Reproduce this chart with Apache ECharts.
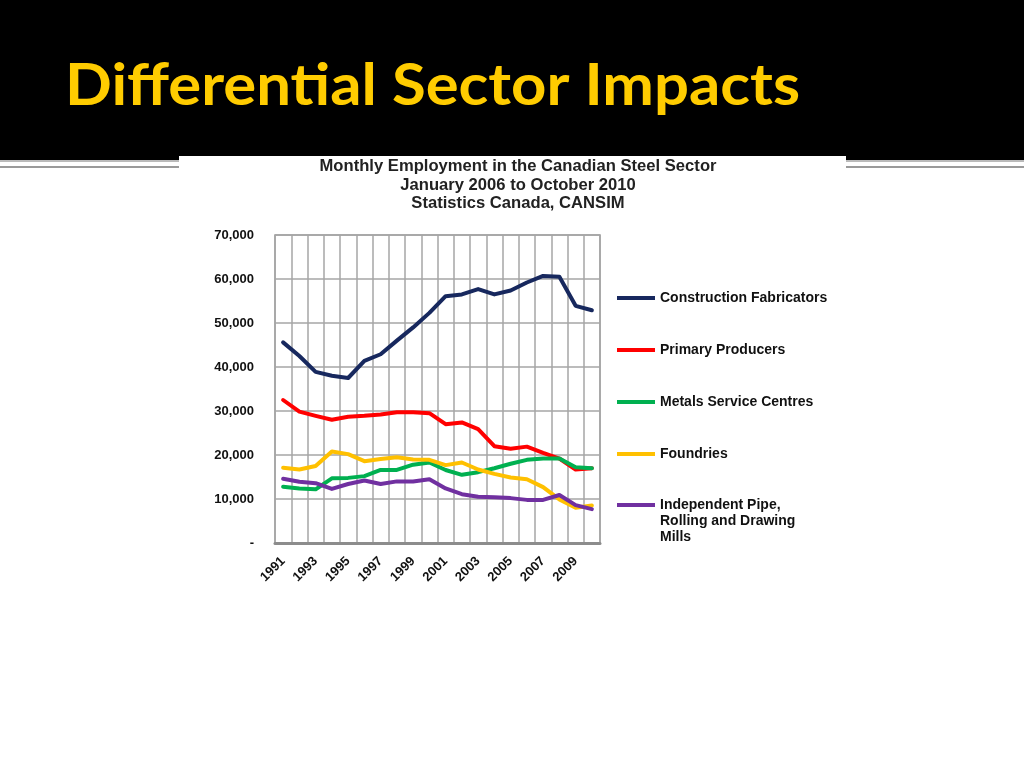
<!DOCTYPE html>
<html>
<head>
<meta charset="utf-8">
<script src="https://cdn.jsdelivr.net/npm/echarts@6/dist/echarts.min.js"></script>
<style>
html,body{margin:0;padding:0;background:#fff;}
#c{width:1024px;height:768px;}
</style>
</head>
<body>
<div id="c"></div>
<script>
var years = ['1991','1992','1993','1994','1995','1996','1997','1998','1999','2000','2001','2002','2003','2004','2005','2006','2007','2008','2009','2010'];
var yTicks = [0, 10000, 20000, 30000, 40000, 50000, 60000, 70000];
var constructionFabricators = [45600, 42500, 38900, 38000, 37500, 41400, 42900, 46000, 49000, 52300, 56100, 56500, 57700, 56500, 57400, 59200, 60700, 60500, 53900, 52900];
var primaryProducers = [32500, 29850, 28900, 28000, 28700, 28900, 29200, 29700, 29700, 29500, 27000, 27400, 25900, 22000, 21400, 21900, 20500, 19200, 16700, 17000];
var metalsServiceCentres = [12800, 12400, 12200, 14700, 14800, 15200, 16600, 16600, 17800, 18300, 16600, 15500, 16100, 17000, 18000, 18900, 19200, 19200, 17200, 17000];
var foundries = [17100, 16700, 17500, 20800, 20200, 18600, 19100, 19500, 19000, 18900, 17700, 18300, 16700, 15700, 14900, 14500, 12700, 9900, 8000, 8500];
var independentPipe = [14600, 13900, 13600, 12300, 13400, 14200, 13400, 14000, 14000, 14500, 12400, 11100, 10500, 10400, 10200, 9800, 9800, 10900, 8600, 7700];
var seriesNames = ['Construction Fabricators', 'Primary Producers', 'Metals Service Centres', 'Foundries', 'Independent Pipe, Rolling and Drawing Mills'];
var seriesColors = ['#17285E', '#FF0000', '#00B050', '#FFC000', '#7030A0'];
var seriesData = [constructionFabricators, primaryProducers, metalsServiceCentres, foundries, independentPipe];

var slideTitle = 'Differential Sector Impacts';
var chartTitleLines = ['Monthly Employment in the Canadian Steel Sector', 'January 2006 to October 2010', 'Statistics Canada, CANSIM'];

var titleFont = 'bold 58px Lato';
var chartTitleFont = 'bold 15px "Liberation Sans", Arial';
var cv = document.createElement('canvas').getContext('2d');
cv.font = titleFont;
var tw = cv.measureText(slideTitle).width || 735;
var sx = 735 / tw;
cv.font = chartTitleFont;
var ctw = cv.measureText(chartTitleLines[0]).width || 397;
var csx = 397 / ctw;

var chart = echarts.init(document.getElementById('c'), null, {renderer: 'canvas'});
var series = seriesNames.map(function (n, i) {
  return {
    name: n,
    type: 'line',
    data: seriesData[i],
    showSymbol: false,
    symbol: 'none',
    lineStyle: {width: 4, color: seriesColors[i], cap: 'round', join: 'round'},
    itemStyle: {color: seriesColors[i]},
    z: 3 + i
  };
});

var graphics = [
  {type: 'rect', shape: {x: 0, y: 0, width: 1024, height: 160}, style: {fill: '#000'}, z: -10},
  {type: 'line', shape: {x1: 0, y1: 161, x2: 1024, y2: 161}, style: {stroke: '#777', lineWidth: 1}, z: -9},
  {type: 'line', shape: {x1: 0, y1: 167, x2: 1024, y2: 167}, style: {stroke: '#9a9a9a', lineWidth: 2}, z: -9},
  {type: 'rect', shape: {x: 179, y: 156, width: 667, height: 20}, style: {fill: '#fff'}, z: -8},
  {type: 'text', x: 65, y: 86, scaleX: sx, scaleY: 1, style: {text: slideTitle, x: 0, y: 0, font: titleFont, fill: '#FFCC00', verticalAlign: 'middle', align: 'left'}, z: 10}
];
chartTitleLines.forEach(function (t, i) {
  graphics.push({type: 'text', x: 518, y: 167 + i * 18.5, scaleX: csx, scaleY: 1.05,
    style: {text: t, x: 0, y: 0, font: chartTitleFont, fill: '#222', align: 'center', verticalAlign: 'middle'}, z: 10});
});

var legendText = {fontFamily: '"Liberation Sans", Arial', fontWeight: 'bold', fontSize: 14, lineHeight: 16, color: '#111'};

chart.setOption({
  animation: false,
  backgroundColor: '#ffffff',
  graphic: graphics,
  legend: [
    {
      orient: 'vertical',
      left: 617,
      top: 290,
      padding: 0,
      itemGap: 36,
      itemWidth: 38,
      itemHeight: 4,
      icon: 'rect',
      data: seriesNames.slice(0, 4),
      textStyle: legendText
    },
    {
      orient: 'vertical',
      left: 617,
      top: 465,
      padding: 0,
      itemWidth: 38,
      itemHeight: 4,
      icon: 'rect',
      data: [seriesNames[4]],
      formatter: function () { return '\n\nIndependent Pipe,\nRolling and Drawing\nMills'; },
      textStyle: legendText
    }
  ],
  grid: {
    left: 275, top: 235, right: 424, bottom: 225,
    show: true, borderColor: '#999', borderWidth: 1.5, backgroundColor: '#fff',
    containLabel: false
  },
  xAxis: {
    type: 'category',
    data: years,
    boundaryGap: true,
    axisLine: {show: true, lineStyle: {color: '#8c8c8c', width: 3}},
    axisTick: {show: false, interval: 0},
    splitLine: {show: true, interval: 0, lineStyle: {color: '#a6a6a6', width: 1.5}},
    axisLabel: {
      interval: 1, rotate: 45, margin: 16,
      fontFamily: '"Liberation Sans", Arial', fontWeight: 'bold', fontSize: 13, color: '#111'
    }
  },
  yAxis: {
    type: 'value',
    min: yTicks[0],
    max: yTicks[yTicks.length - 1],
    interval: 10000,
    axisLine: {show: false},
    axisTick: {show: false},
    splitLine: {show: true, lineStyle: {color: '#a6a6a6', width: 1.5}},
    axisLabel: {
      margin: 21,
      fontFamily: '"Liberation Sans", Arial', fontWeight: 'bold', fontSize: 13, color: '#111',
      formatter: function (v) { return v === 0 ? '-' : v.toLocaleString('en-US'); }
    }
  },
  series: series
});
</script>
</body>
</html>
